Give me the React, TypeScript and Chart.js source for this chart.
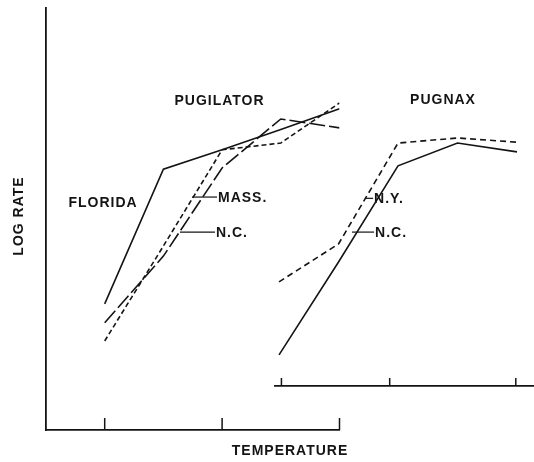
import React, { useEffect, useRef } from "react";
import { Chart, registerables } from "chart.js";

Chart.register(...registerables);

// Temperature steps (arbitrary units)
const TEMPS = [10, 15, 20, 25, 30];
const PUGILATOR_TICKS = [10, 20, 30];
const PUGNAX_TICKS = [10.2, 19.3, 29.9];

// U. pugilator – log rate (arbitrary units)
const FLORIDA = [2.99, 6.18, 6.64, 7.12, 7.61];
const MASS = [2.11, 4.36, 6.64, 6.8, 7.75];
const NC_PUGILATOR = [2.54, 4.12, 6.21, 7.37, 7.16];

// U. pugnax – log rate (arbitrary units)
const NC_PUGNAX = [1.78, 3.98, 6.26, 6.8, 6.59];
const NY_PUGNAX = [3.51, 4.41, 6.8, 6.92, 6.82];

const INK = "#141414";
const FONT = 'bold 14px "Liberation Sans", Arial, sans-serif';

type Note = { text: string; x: number; y: number; align: "left" | "center"; from?: number };

const PUGILATOR_NOTES: Note[] = [
  { text: "PUGILATOR", x: 19.78, y: 7.82, align: "center" },
  { text: "FLORIDA", x: 9.86, y: 5.4, align: "center" },
  { text: "MASS.", x: 19.65, y: 5.52, align: "left", from: 17.44 },
  { text: "N.C.", x: 19.48, y: 4.69, align: "left", from: 16.41 },
];

const PUGNAX_NOTES: Note[] = [
  { text: "PUGNAX", x: 23.78, y: 7.84, align: "center" },
  { text: "N.Y.", x: 17.99, y: 5.49, align: "left", from: 17.22 },
  { text: "N.C.", x: 18.07, y: 4.69, align: "left", from: 16.13 },
];

const pts = (ys: number[]) => TEMPS.map((t, i) => ({ x: t, y: ys[i] }));

const lineDs = (label: string, ys: number[], dash: number[]) => ({
  label,
  data: pts(ys),
  borderColor: INK,
  borderWidth: 1.6,
  borderDash: dash,
  pointRadius: 0,
  tension: 0,
  fill: false,
});

function makeDecor(id: string, notes: Note[], ticks: number[], tickLen: number, extra?: (chart: any) => void) {
  return {
    id,
    afterDraw(chart: any) {
      const { ctx } = chart;
      const x = chart.scales.x;
      const y = chart.scales.y;
      ctx.save();
      ctx.strokeStyle = INK;
      ctx.fillStyle = INK;
      ctx.lineWidth = 1.5;
      // upward tick marks
      for (const t of ticks) {
        const px = x.getPixelForValue(t);
        ctx.beginPath();
        ctx.moveTo(px, x.top);
        ctx.lineTo(px, x.top - tickLen);
        ctx.stroke();
      }
      ctx.font = FONT;
      (ctx as any).letterSpacing = "1px";
      ctx.textBaseline = "middle";
      for (const n of notes) {
        const px = x.getPixelForValue(n.x);
        const py = y.getPixelForValue(n.y);
        if (n.from !== undefined) {
          ctx.lineWidth = 1.2;
          ctx.beginPath();
          ctx.moveTo(x.getPixelForValue(n.from), py);
          ctx.lineTo(px - 1, py);
          ctx.stroke();
        }
        ctx.textAlign = n.align;
        ctx.fillText(n.text, px, py + 1);
      }
      if (extra) extra(chart);
      ctx.restore();
    },
  };
}

const hiddenAxis = {
  grid: { display: false, drawTicks: false },
  ticks: { display: false },
};

export default function App() {
  const ref1 = useRef<HTMLCanvasElement>(null);
  const ref2 = useRef<HTMLCanvasElement>(null);

  useEffect(() => {
    const c1 = new Chart(ref1.current!, {
      type: "line",
      data: {
        datasets: [
          lineDs("FLORIDA", FLORIDA, []),
          lineDs("MASS.", MASS, [5, 3]),
          lineDs("N.C.", NC_PUGILATOR, [16, 4]),
        ],
      },
      options: {
        animation: false,
        responsive: false,
        maintainAspectRatio: false,
        layout: { padding: { left: 46, top: 8, right: 194.5, bottom: 32 } },
        plugins: { legend: { display: false }, tooltip: { enabled: false } },
        scales: {
          x: {
            type: "linear",
            min: 5,
            max: 30,
            ...hiddenAxis,
            border: { display: true, color: INK, width: 1.8 },
          },
          y: {
            type: "linear",
            min: 0,
            max: 10,
            ...hiddenAxis,
            border: { display: true, color: INK, width: 1.8 },
          },
        },
      },
      plugins: [
        makeDecor("decorPugilator", PUGILATOR_NOTES, PUGILATOR_TICKS, 12, (chart: any) => {
          const { ctx, chartArea } = chart;
          ctx.textAlign = "center";
          ctx.fillText("TEMPERATURE", chart.width / 2 + 23, chartArea.bottom + 21);
          ctx.save();
          ctx.translate(chartArea.left - 27, (chartArea.top + chartArea.bottom) / 2 - 3);
          ctx.rotate(-Math.PI / 2);
          ctx.fillText("LOG RATE", 0, 0);
          ctx.restore();
        }),
      ],
    } as any);

    const c2 = new Chart(ref2.current!, {
      type: "line",
      data: {
        datasets: [lineDs("N.C.", NC_PUGNAX, []), lineDs("N.Y.", NY_PUGNAX, [6, 4])],
      },
      options: {
        animation: false,
        responsive: false,
        maintainAspectRatio: false,
        layout: { padding: { left: 275, top: 8, right: 0, bottom: 76 } },
        plugins: { legend: { display: false }, tooltip: { enabled: false } },
        scales: {
          x: {
            type: "linear",
            min: 9.66,
            max: 31.43,
            ...hiddenAxis,
            border: { display: true, color: INK, width: 1.8 },
          },
          y: {
            type: "linear",
            display: false,
            min: 1.043,
            max: 10,
          },
        },
      },
      plugins: [makeDecor("decorPugnax", PUGNAX_NOTES, PUGNAX_TICKS, 8)],
    } as any);

    return () => {
      c1.destroy();
      c2.destroy();
    };
  }, []);

  const cs: React.CSSProperties = { position: "absolute", left: 0, top: 0, width: 534, height: 462 };
  return (
    <div style={{ position: "absolute", left: 0, top: 0, width: 534, height: 462, background: "#fff" }}>
      <canvas ref={ref1} width={534} height={462} style={cs} />
      <canvas ref={ref2} width={534} height={462} style={cs} />
    </div>
  );
}
